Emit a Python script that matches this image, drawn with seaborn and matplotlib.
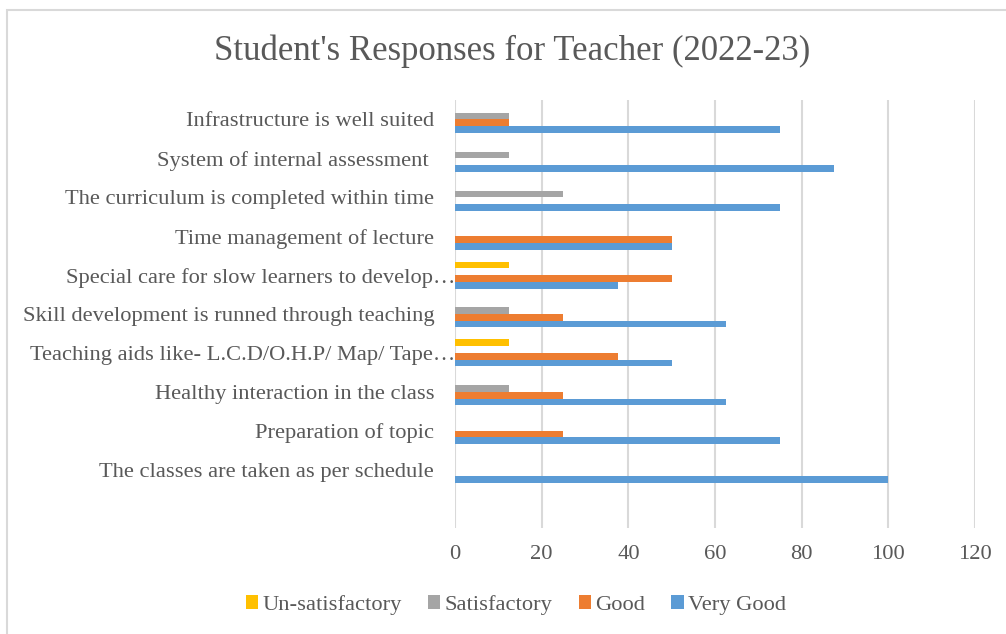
import pandas as pd
import matplotlib
matplotlib.use('Agg')
import matplotlib.pyplot as plt
import matplotlib.transforms as mtransforms
from matplotlib.patches import Rectangle
import seaborn as sns

# Datos del grafico (de arriba hacia abajo)
categorias = [
    'Infrastructure is well suited',
    'System of internal assessment ',
    'The curriculum is completed within time',
    'Time management of lecture',
    'Special care for slow learners to develop…',
    'Skill development is runned through teaching',
    'Teaching aids like- L.C.D/O.H.P/ Map/ Tape…',
    'Healthy interaction in the class',
    'Preparation of topic',
    'The classes are taken as per schedule',
]
un_satisfactory = [0, 0, 0, 0, 12.5, 0, 12.5, 0, 0, 0]
satisfactory = [12.5, 12.5, 25, 0, 0, 12.5, 0, 12.5, 0, 0]
good = [12.5, 0, 0, 50, 50, 25, 37.5, 25, 25, 0]
very_good = [75, 87.5, 75, 50, 37.5, 62.5, 50, 62.5, 75, 100]

series = ['Un-satisfactory', 'Satisfactory', 'Good', 'Very Good']
colores = ['#FFC000', '#A5A5A5', '#ED7D31', '#5B9BD5']

df = pd.DataFrame({
    'Categoria': categorias * 4,
    'Serie': [s for s in series for _ in categorias],
    'Valor': un_satisfactory + satisfactory + good + very_good,
})

sns.set_theme(style='white')
plt.rcParams['font.family'] = ['Liberation Serif', 'DejaVu Serif']
gris_texto = '#595959'
tam = 16.2

fig = plt.figure(figsize=(10.06, 6.34), dpi=100)
ax = fig.add_axes([455 / 1006, 1 - 528 / 634, 520 / 1006, 428 / 634])

sns.barplot(data=df, y='Categoria', x='Valor', hue='Serie', order=categorias,
            hue_order=series, palette=colores, orient='h', width=0.69,
            gap=0, linewidth=0, saturation=1, ax=ax, zorder=3)

ax.set_xlim(0, 120)
ax.set_xticks(range(0, 121, 20))
ax.set_ylim(10.5, -0.5)
ax.grid(axis='x', color='#D9D9D9', linewidth=1.5, zorder=0)
ax.grid(axis='y', visible=False)
for s in ax.spines.values():
    s.set_visible(False)
ax.set_xlabel('')
ax.set_ylabel('')
ax.tick_params(axis='x', length=0, pad=12, labelsize=tam, labelcolor=gris_texto)
ax.tick_params(axis='y', length=0, pad=15, labelsize=tam, labelcolor=gris_texto)

# etiquetas recortadas llegan hasta el eje
for lbl in ax.get_yticklabels():
    if lbl.get_text().endswith('…'):
        lbl.set_transform(lbl.get_transform() +
                          mtransforms.ScaledTranslation(21 / 100, 0, fig.dpi_scale_trans))

fig.suptitle("Student's Responses for Teacher (2022-23)", x=512 / 1006, y=1 - 34 / 634,
             fontsize=25, color=gris_texto, va='top')

handles, labels = ax.get_legend_handles_labels()
ax.legend(handles, labels, loc='center', bbox_to_anchor=(516 / 1006, 1 - 605 / 634),
          bbox_transform=fig.transFigure, ncol=4, frameon=False, fontsize=tam,
          handlelength=0.55, handleheight=0.55, handletextpad=0.2, columnspacing=1.15,
          labelcolor=gris_texto)

fig.patches.append(Rectangle((7 / 1006, -0.1), 1.2, 1.1 - 10 / 634, transform=fig.transFigure,
                             fill=False, edgecolor='#D9D9D9', linewidth=1.5, zorder=0))

fig.savefig('out.png', dpi=100)
